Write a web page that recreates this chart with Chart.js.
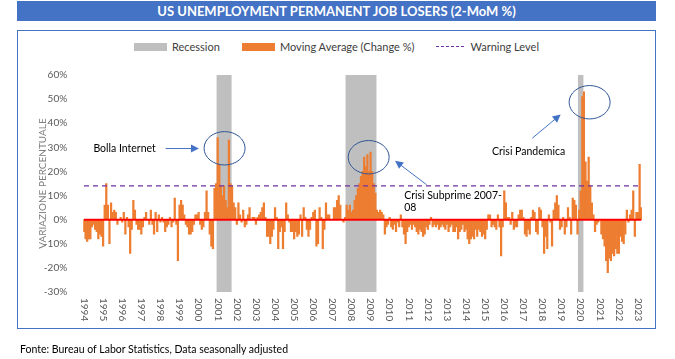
<!DOCTYPE html>
<html>
<head>
<meta charset="utf-8">
<script src="https://cdn.jsdelivr.net/npm/chart.js@4.4.1/dist/chart.umd.min.js"></script>
<style>
body{margin:0;background:#fff;font-family:Lato,sans-serif;}
#wrap{position:relative;width:675px;height:359px;overflow:hidden;}
#title{position:absolute;left:17px;top:1px;width:639px;height:20px;background:#4472C4;color:#fff;font-weight:bold;font-size:13px;line-height:20px;text-align:center;}
#box{position:absolute;left:17px;top:30px;width:637px;height:297px;border:1px solid #4472C4;}
#legend{position:absolute;left:17px;width:639px;top:40px;display:flex;justify-content:center;align-items:center;font-size:11px;color:#404040;}
#legend .item{display:flex;align-items:center;margin:0 11px;}
#legend .sw{width:33px;height:8px;margin-right:5px;}
#legend .dash{width:28px;height:0;border-top:1.5px dashed #7030A0;margin-right:6px;}
#foot{position:absolute;left:20px;top:343px;font-size:10.5px;color:#000;}
canvas{position:absolute;left:0;top:0;}
</style>
</head>
<body>
<div id="wrap">
<div id="title">US UNEMPLOYMENT PERMANENT JOB LOSERS (2-MoM %)</div>
<div id="box"></div>
<div id="legend">
 <div class="item"><div class="sw" style="background:#BFBFBF"></div>Recession</div>
 <div class="item"><div class="sw" style="background:#ED7D31"></div>Moving Average (Change %)</div>
 <div class="item"><div class="dash"></div>Warning Level</div>
</div>
<canvas id="chart" width="675" height="359"></canvas>
<div id="foot">Fonte: Bureau of Labor Statistics, Data seasonally adjusted</div>
</div>
<script>
// months from Jan 1994 to Mar 2023
const firstYear = 1994;
const monthCount = 351;

// 2-month moving average change, %
const changePct = [
-5,-8,-9,-8,-8,-3,-2,-4,-5,-8,-6,-7,        // 1994
-11,6,15,6,-10,7,3,4,3,-2,0,1,              // 1995
-1,3,-6,1,-3,-14,-4,8,4,-2,-4,-4,           // 1996
-6,-3,1,3,0,-2,4,-2,-6,3,-5,2,              // 1997
-1,1,-1,-5,-3,-2,1,-3,-1,9,-2,-17,          // 1998
6,8,6,2,-2,-3,-6,-6,-5,-2,2,2,              // 1999
3,-2,-4,-3,3,12,3,-6,-11,-12,13,15,         // 2000
34,23,14,10,14,8,5,33,15,14,7,5,            // 2001
-2,7,2,-1,4,-3,-2,2,5,0,1,1,                // 2002
-2,1,2,3,5,7,1,-7,-7,-10,-7,-4,             // 2003
5,1,-12,-5,-3,-12,-5,7,2,-1,-5,-5,          // 2004
-8,-5,-7,-6,2,-7,5,1,-4,-7,-4,1,            // 2005
3,4,-11,-10,5,1,-12,-4,7,2,2,0,             // 2006
0,5,5,8,10,6,0,-1,1,6,4,6,                  // 2007
3,4,8,10,13,15,18,20,26,22,27,20,           // 2008
28,20,15,11,4,3,4,3,2,-6,-3,-2,             // 2009
1,-3,-4,-2,-5,-1,-3,2,-3,-6,-10,-5,         // 2010
-3,-2,-4,-2,-3,-5,-6,-4,-5,-7,-6,-3,        // 2011
-4,-2,1,-3,-2,-3,-2,-4,-3,-2,-3,-4,         // 2012
-2,-5,-3,-2,-5,-5,-3,-8,-5,-4,-2,-5,        // 2013
-4,-8,-10,-8,-7,-8,-4,-7,-4,-5,-7,-6,       // 2014
-8,-4,2,2,-3,-2,-3,-4,2,-3,-15,-3,          // 2015
12,7,1,1,-2,3,-4,-3,-3,2,4,4,               // 2016
1,-6,-7,-4,-6,1,4,3,-5,-6,5,4,              // 2017
-3,-14,-7,-12,2,-1,-11,4,7,10,6,-4,         // 2018
-3,1,-6,-3,5,1,-6,9,8,6,-6,4,               // 2019
12,51,53,24,16,26,14,7,2,-5,-2,-1,          // 2020
0,-6,-8,-11,-17,-22,-16,-17,-14,-15,-12,-14, // 2021
-14,-7,-9,-10,-6,4,-1,2,4,12,-7,3,          // 2022
3,23,5                                      // 2023
];

// recession shading, first and last month shown
const recessions = [["2001-01","2001-09"],["2007-10","2009-04"],["2019-12","2020-02"]];
const warningLevel = 14;
const yMin = -30, yMax = 60, yStep = 10;

const months = [];
for (let i = 0; i < monthCount; i++) {
  const y = firstYear + Math.floor(i / 12);
  const m = (i % 12) + 1;
  months.push(y + "-" + (m < 10 ? "0" + m : m));
}

function inRecession(label){
  return recessions.some(r => label >= r[0] && label <= r[1]);
}

// annotations placed in data space: [month index, value %]
const notes = [
  {text:["Bolla Internet"], at:[5.9, 29.5], ellipse:[88.3, 29.6], arrow:[[51.3, 29.5],[72.2, 29.5]]},
  {text:["Crisi Subprime 2007-","08"], at:[201.1, 10.1], ellipse:[178.8, 25.9], arrow:[[215.2, 14.5],[195.4, 24.4]]},
  {text:["Crisi Pandemica"], at:[256.3, 28.4], ellipse:[317.6, 48.7], arrow:[[281.6, 33.8],[299.4, 43.6]]}
];

const overlay = {
  id: "overlay",
  afterDraw(chart){
    const ctx = chart.ctx;
    const xs = chart.scales.x, ys = chart.scales.y;
    const px = i => xs.getPixelForValue(i);
    const py = v => ys.getPixelForValue(v / 100);

    // year labels, rotated to read top-down
    ctx.save();
    ctx.fillStyle = "#595959";
    ctx.font = "10px Lato";
    ctx.textAlign = "left";
    ctx.textBaseline = "middle";
    for (let i = 0; i < months.length; i += 12) {
      ctx.save();
      ctx.translate(px(i), ys.bottom + 6);
      ctx.rotate(Math.PI / 2);
      ctx.fillText(months[i].slice(0, 4), 0, 0);
      ctx.restore();
    }
    ctx.restore();

    notes.forEach(n => {
      // ellipse
      ctx.save();
      ctx.strokeStyle = "#2F5597";
      ctx.lineWidth = 1;
      ctx.beginPath();
      ctx.ellipse(px(n.ellipse[0]), py(n.ellipse[1]), 20.5, 16.7, 0, 0, Math.PI * 2);
      ctx.stroke();
      // arrow
      const x1 = px(n.arrow[0][0]), y1 = py(n.arrow[0][1]);
      const x2 = px(n.arrow[1][0]), y2 = py(n.arrow[1][1]);
      const a = Math.atan2(y2 - y1, x2 - x1);
      ctx.strokeStyle = "#4472C4";
      ctx.fillStyle = "#4472C4";
      ctx.beginPath();
      ctx.moveTo(x1, y1);
      ctx.lineTo(x2 - 7 * Math.cos(a), y2 - 7 * Math.sin(a));
      ctx.stroke();
      ctx.beginPath();
      ctx.moveTo(x2, y2);
      ctx.lineTo(x2 - 8 * Math.cos(a) + 4 * Math.sin(a), y2 - 8 * Math.sin(a) - 4 * Math.cos(a));
      ctx.lineTo(x2 - 8 * Math.cos(a) - 4 * Math.sin(a), y2 - 8 * Math.sin(a) + 4 * Math.cos(a));
      ctx.closePath();
      ctx.fill();
      // text
      ctx.fillStyle = "#000";
      ctx.font = "10.5px Lato";
      ctx.textAlign = "left";
      ctx.textBaseline = "middle";
      n.text.forEach((t, k) => ctx.fillText(t, px(n.at[0]), py(n.at[1]) + k * 12));
      ctx.restore();
    });
  }
};

new Chart(document.getElementById("chart"), {
  type: "bar",
  data: {
    labels: months,
    datasets: [
      {
        type: "line",
        label: "zero",
        data: months.map(() => 0),
        borderColor: "#FF0000",
        borderWidth: 2,
        pointRadius: 0,
        order: 0
      },
      {
        type: "line",
        label: "Warning Level",
        data: months.map(() => warningLevel / 100),
        borderColor: "#7030A0",
        borderWidth: 1.2,
        borderDash: [5, 4],
        pointRadius: 0,
        order: 1
      },
      {
        label: "Moving Average (Change %)",
        data: changePct.map(v => v / 100),
        backgroundColor: "#ED7D31",
        grouped: false,
        barPercentage: 1,
        categoryPercentage: 1,
        order: 2
      },
      {
        label: "Recession",
        data: months.map(m => inRecession(m) ? [yMin / 100, yMax / 100] : null),
        backgroundColor: "#BFBFBF",
        grouped: false,
        barPercentage: 1,
        categoryPercentage: 1,
        order: 3
      }
    ]
  },
  options: {
    responsive: false,
    animation: false,
    layout: { padding: { top: 75, right: 33, left: 0, bottom: 0 } },
    plugins: { legend: { display: false }, tooltip: { enabled: false } },
    scales: {
      x: {
        offset: true,
        grid: { display: false },
        border: { display: false },
        ticks: { display: false },
        afterFit: s => { s.height = 67; }
      },
      y: {
        min: yMin / 100,
        max: yMax / 100,
        grid: { display: false },
        border: { display: false },
        ticks: {
          stepSize: yStep / 100,
          color: "#595959",
          font: { family: "Lato", size: 10 },
          padding: 8,
          callback: v => Math.round(v * 100) + "%"
        },
        title: {
          display: true,
          text: "VARIAZIONE PERCENTUALE",
          color: "#7F7F7F",
          font: { family: "Lato", size: 10 },
          padding: { top: 37, bottom: 0 }
        },
        afterFit: s => { s.width = 83.2; }
      }
    }
  },
  plugins: [overlay]
});
</script>
</body>
</html>
